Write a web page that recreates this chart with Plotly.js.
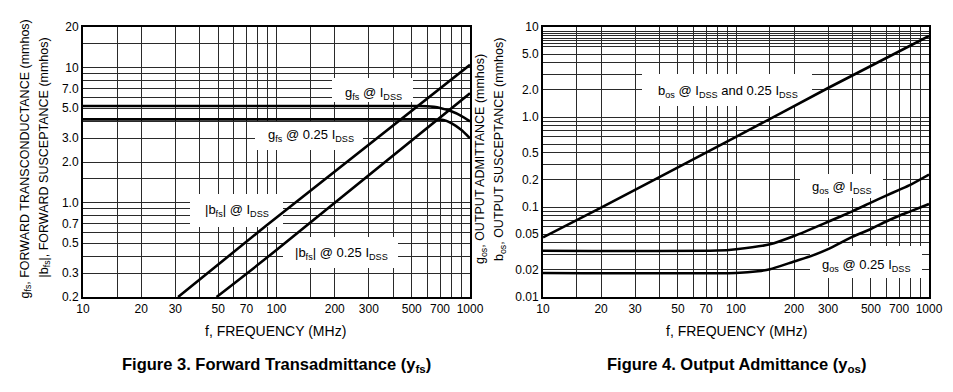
<!DOCTYPE html>
<html>
<head>
<meta charset="utf-8">
<script src="https://cdn.plot.ly/plotly-3.0.1.min.js"></script>
<style>html,body{margin:0;padding:0;background:#fff;}#chart{width:953px;height:392px;}</style>
</head>
<body>
<div id="chart"></div>
<script>
// ---------- Figure 3: Forward Transadmittance ----------
const gfsIdssFreq = [10, 550, 600, 650, 700, 800, 900, 1000];
const gfsIdss     = [5.2, 5.2, 5.18, 5.12, 5.02, 4.75, 4.4, 4.0];
const gfsQFreq    = [10, 650, 700, 750, 800, 900, 1000];
const gfsQ        = [4.14, 4.14, 4.12, 4.05, 3.88, 3.47, 3.0];
const bfsIdssFreq = [31, 89, 1000];
const bfsIdss     = [0.2, 0.68, 10.5];
const bfsQFreq    = [49, 89, 1000];
const bfsQ        = [0.2, 0.39, 6.45];

// ---------- Figure 4: Output Admittance ----------
const bosFreq     = [10, 20, 100, 300, 1000];
const bos         = [0.046, 0.0985, 0.60, 2.1, 7.94];
const gosIdssFreq = [10, 80, 100, 150, 200, 300, 400, 500, 600, 700, 800, 1000];
const gosIdss     = [0.0327, 0.0328, 0.0340, 0.0385, 0.0476, 0.0685, 0.0895, 0.112, 0.134, 0.155, 0.176, 0.229];
const gosQFreq    = [10, 100, 130, 150, 200, 250, 300, 400, 500, 600, 700, 800, 1000];
const gosQ        = [0.0185, 0.0185, 0.0193, 0.0203, 0.0248, 0.0290, 0.0340, 0.0465, 0.057, 0.069, 0.080, 0.0895, 0.108];

// ---------- Axis ticks (labelled) and extra grid lines ----------
const xTicks     = [10, 20, 30, 50, 70, 100, 200, 300, 500, 700, 1000];
const xTickText  = ['10', '20', '30', '50', '70', '100', '200', '300', '500', '700', '1000'];
const xExtraGrid = [15, 40, 60, 80, 90, 150, 400, 600, 800, 900];
const yLTicks     = [0.2, 0.3, 0.5, 0.7, 1, 2, 3, 5, 7, 10, 20];
const yLTickText  = ['0.2', '0.3', '0.5', '0.7', '1.0', '2.0', '3.0', '5.0', '7.0', '10', '20'];
const yLExtraGrid = [0.4, 0.6, 0.8, 0.9, 1.5, 4, 6, 8, 9, 15];
const yRTicks     = [0.01, 0.02, 0.05, 0.1, 0.2, 0.4, 1, 2, 5, 10];
const yRTickText  = ['0.01', '0.02', '0.05', '0.1', '0.2', '0.5', '1.0', '2.0', '5.0', '10'];
const yRExtraGrid = [0.03, 0.04, 0.06, 0.07, 0.08, 0.09, 0.3, 0.5, 0.6, 0.7, 0.8, 0.9, 3, 4, 6, 6.5, 7, 7.5, 8, 8.5, 9];

const W = 953, H = 392;
const px = x => x / W;
const py = y => 1 - y / H;
const FONT = 'Liberation Sans, Arial, Helvetica, sans-serif';
const GRID = '#2a2a2a';

// plot-area pixel frames and axis ranges (log10) used to place label boxes
const frameL = {x0: 83, x1: 470, y0: 27, y1: 297, xr: [1, 3], yr: [Math.log10(0.2), Math.log10(20)]};
const frameR = {x0: 543, x1: 929, y0: 27, y1: 297, xr: [1, 3], yr: [-2, 1]};

const lineStyle = {color: '#000', width: 2.6, shape: 'spline', smoothing: 0.6};
function tr(x, y, xa, ya, name) {
  return {x: x, y: y, xaxis: xa, yaxis: ya, name: name, type: 'scatter', mode: 'lines',
          line: lineStyle, hoverinfo: 'skip'};
}
const data = [
  tr(gfsIdssFreq, gfsIdss, 'x', 'y', 'gfs @ IDSS'),
  tr(gfsQFreq, gfsQ, 'x', 'y', 'gfs @ 0.25 IDSS'),
  tr(bfsIdssFreq, bfsIdss, 'x', 'y', '|bfs| @ IDSS'),
  tr(bfsQFreq, bfsQ, 'x', 'y', '|bfs| @ 0.25 IDSS'),
  tr(bosFreq, bos, 'x2', 'y2', 'bos'),
  tr(gosIdssFreq, gosIdss, 'x2', 'y2', 'gos @ IDSS'),
  tr(gosQFreq, gosQ, 'x2', 'y2', 'gos @ 0.25 IDSS')
];

function axisDef(domain, anchor, range, vals, text, extra) {
  return {type: 'log', domain: domain, anchor: anchor, range: range,
          tickmode: 'array', tickvals: vals, ticktext: text,
          showgrid: true, gridcolor: GRID, gridwidth: 1,
          minor: {tickmode: 'array', tickvals: extra, showgrid: true, gridcolor: GRID, gridwidth: 1, ticks: ''},
          showline: true, linecolor: '#000', linewidth: 2, mirror: true,
          ticks: '', tickfont: {family: FONT, size: 12, color: '#000'}, fixedrange: true};
}

const yDom = [py(297), py(27)];

// white label boxes drawn between gridlines and traces (pixel box -> axis values)
function box(f, sub, x0, x1, y0, y1) {
  const fx = v => Math.pow(10, f.xr[0] + (v - f.x0) / (f.x1 - f.x0) * (f.xr[1] - f.xr[0]));
  const fy = v => Math.pow(10, f.yr[0] + (f.y1 - v) / (f.y1 - f.y0) * (f.yr[1] - f.yr[0]));
  return {type: 'rect', xref: sub[0], yref: sub[1],
          x0: fx(x0), x1: fx(x1), y0: fy(y1), y1: fy(y0),
          fillcolor: '#fff', line: {width: 0}, layer: 'between'};
}
const shapes = [
  box(frameL, ['x', 'y'], 332, 413, 78, 102),
  box(frameL, ['x', 'y'], 255, 363, 122, 150),
  box(frameL, ['x', 'y'], 190, 283, 194, 227),
  box(frameL, ['x', 'y'], 283, 398, 237, 268),
  box(frameR, ['x2', 'y2'], 642, 812, 74, 106),
  box(frameR, ['x2', 'y2'], 800, 883, 174, 198),
  box(frameR, ['x2', 'y2'], 810, 922, 246, 278)
];

function label(text, cx, cy) {
  return {text: text, xref: 'paper', yref: 'paper', x: px(cx), y: py(cy),
          xanchor: 'center', yanchor: 'middle', showarrow: false,
          font: {family: FONT, size: 13, color: '#000'}};
}
function plainText(text, cx, cy, size, angle, bold) {
  return {text: bold ? '<b>' + text + '</b>' : text, xref: 'paper', yref: 'paper',
          x: px(cx), y: py(cy), xanchor: 'center', yanchor: 'middle', showarrow: false,
          textangle: angle || 0, font: {family: FONT, size: size, color: '#000'}};
}

const annotations = [
  label('g<sub>fs</sub> @ I<sub>DSS</sub>', 373, 93),
  label('g<sub>fs</sub> @ 0.25 I<sub>DSS</sub>', 311, 136),
  label('|b<sub>fs</sub>| @ I<sub>DSS</sub>', 237, 211),
  label('|b<sub>fs</sub>| @ 0.25 I<sub>DSS</sub>', 341, 253),
  label('b<sub>os</sub> @ I<sub>DSS</sub> and 0.25 I<sub>DSS</sub>', 728, 91),
  label('g<sub>os</sub> @ I<sub>DSS</sub>', 842, 187),
  label('g<sub>os</sub> @ 0.25 I<sub>DSS</sub>', 866, 265),
  plainText('f, FREQUENCY (MHz)', 275, 331, 14),
  plainText('f, FREQUENCY (MHz)', 736, 331, 14),
  plainText('g<sub>fs</sub>, FORWARD TRANSCONDUCTANCE (mmhos)', 25.5, 159, 12.5, -90),
  plainText('|b<sub>fs</sub>|, FORWARD SUSCEPTANCE (mmhos)', 44.5, 158, 12.5, -90),
  plainText('g<sub>os</sub>, OUTPUT ADMITTANCE (mmhos)', 481, 159, 12.5, -90),
  plainText('b<sub>os</sub>, OUTPUT SUSCEPTANCE (mmhos)', 500, 150, 12.5, -90),
  plainText('Figure 3. Forward Transadmittance (y<sub>fs</sub>)', 276, 365, 16.5, 0, true),
  plainText('Figure 4. Output Admittance (y<sub>os</sub>)', 736, 365, 16.5, 0, true)
];

const layout = {
  width: W, height: H,
  margin: {l: 0, r: 0, t: 0, b: 0},
  paper_bgcolor: '#fff', plot_bgcolor: '#fff',
  showlegend: false,
  xaxis: axisDef([px(frameL.x0), px(frameL.x1)], 'y', frameL.xr, xTicks, xTickText, xExtraGrid),
  yaxis: axisDef(yDom, 'x', frameL.yr, yLTicks, yLTickText, yLExtraGrid),
  xaxis2: axisDef([px(frameR.x0), px(frameR.x1)], 'y2', frameR.xr, xTicks, xTickText, xExtraGrid),
  yaxis2: axisDef(yDom, 'x2', frameR.yr, yRTicks, yRTickText, yRExtraGrid),
  shapes: shapes,
  annotations: annotations
};

Plotly.newPlot('chart', data, layout, {displayModeBar: false, staticPlot: true});
</script>
</body>
</html>
